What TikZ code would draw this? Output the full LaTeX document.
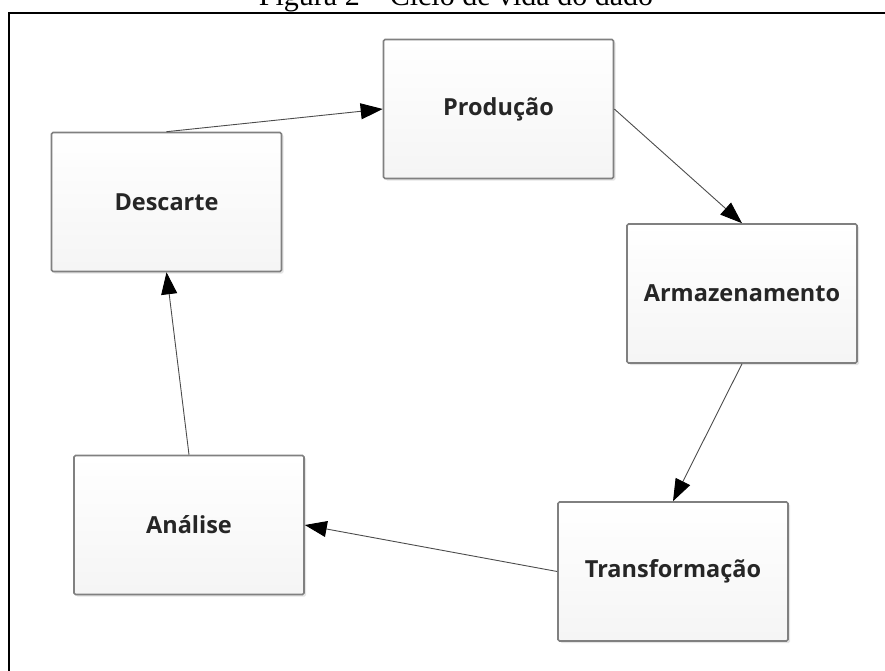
\documentclass[tikz,border=0pt]{standalone}
\usepackage{fontspec}
\setmainfont{Liberation Serif}
\newfontfamily\labelfont{Open Sans}
\usetikzlibrary{arrows.meta,shadows}

\begin{document}
\begin{tikzpicture}[x=1pt,y=-1pt,
  stage/.style={draw=black!50, line width=1.6pt, rounded corners=1.5pt,
    top color=white, bottom color=black!4,
    minimum width=230pt, minimum height=139pt, inner sep=0pt,
    font=\labelfont\bfseries\fontsize{23.5}{28}\selectfont, text=black!85,
    drop shadow={shadow xshift=2pt, shadow yshift=-2pt, opacity=0.25, fill=black!40}},
  flow/.style={draw=black!70, line width=0.9pt,
    -{Triangle[length=22pt,width=16pt,color=black]}},
  frame/.style={line width=2pt, draw=black}]

  \useasboundingbox (0,0) rectangle (885,671);

  % caption, partly above the page edge
  \begin{scope}
    \clip (0,0) rectangle (885,671);
    \node[anchor=base, font=\fontsize{30}{36}\selectfont, inner sep=0pt] (caption) at (456,6)
      {Figura 2 -- Ciclo de vida do dado};
  \end{scope}

  % frame around the figure
  \coordinate (fbl) at (9,671);
  \coordinate (ftl) at (9,13);
  \coordinate (ftr) at (885,13);
  \draw[frame] (fbl) -- (ftl) -- (ftr);

  % life-cycle stages
  \node[stage] (descarte) at (166.5,202)   {Descarte};
  \node[stage] (producao) at (498.5,109)   {Produção};
  \node[stage] (armaz)    at (742,293.5)   {Armazenamento};
  \node[stage] (transf)   at (673,571.5)   {Transformação};
  \node[stage] (analise)  at (189,525)     {Análise};

  % cycle
  \draw[flow] (descarte.north) -- (producao.west);
  \draw[flow] (producao.east)  -- (armaz.north);
  \draw[flow] (armaz.south)    -- (transf.north);
  \draw[flow] (transf.west)    -- (analise.east);
  \draw[flow] (analise.north)  -- (descarte.south);
\end{tikzpicture}
\end{document}
